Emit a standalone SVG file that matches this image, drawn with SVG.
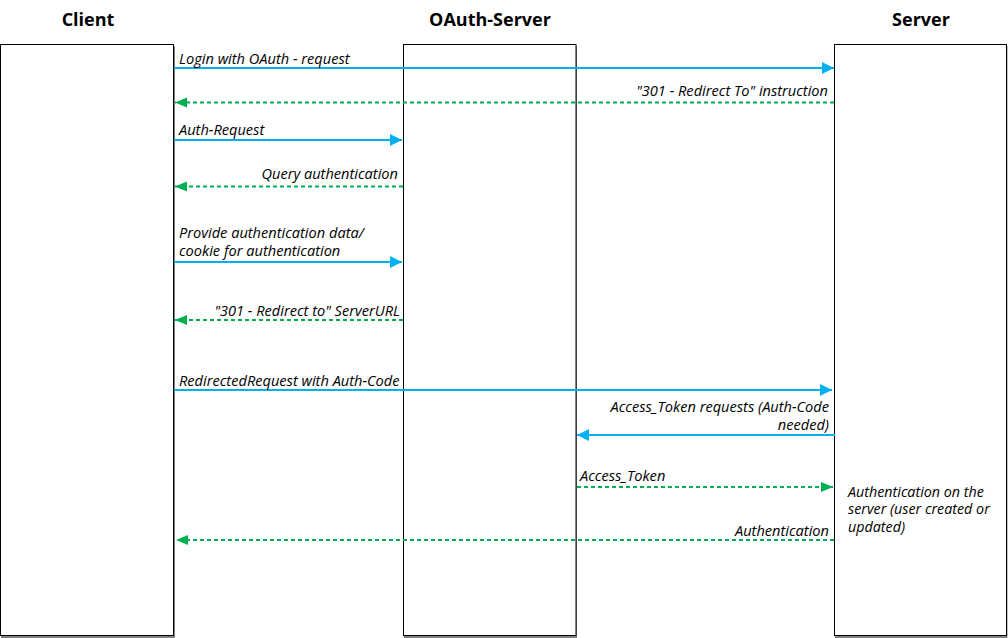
<svg xmlns="http://www.w3.org/2000/svg" width="1008" height="638" viewBox="0 0 1008 638">
<style>
.box{fill:#fff;stroke:#000;stroke-width:1}
.shadow{fill:#808080}
.title{font-family:"Open Sans","Liberation Sans",sans-serif;font-weight:bold;font-size:18px;text-anchor:middle;fill:#000}
.lbl{font-family:"Open Sans","Liberation Sans",sans-serif;font-style:italic;font-size:14.6px;fill:#000}
.note{font-size:14.3px}
.r{text-anchor:end}
.req{stroke:#00B0F0;stroke-width:2;fill:none}
.resp{stroke:#00B050;stroke-width:2;fill:none;stroke-dasharray:4 3}
</style>
<defs>
<marker id="ab" markerUnits="userSpaceOnUse" markerWidth="14" markerHeight="14" refX="12" refY="6" orient="auto">
<path d="M0,0 L12,6 L0,12 Z" fill="#00B0F0"/>
</marker>
<marker id="ag" markerUnits="userSpaceOnUse" markerWidth="14" markerHeight="14" refX="12" refY="5" orient="auto">
<path d="M0,0 L12,5 L0,10 Z" fill="#00B050"/>
</marker>
</defs>
<rect width="1008" height="638" fill="#fff"/>
<g id="client">
<rect class="shadow" x="1" y="46" width="174" height="592"/>
<rect class="box" x="0.5" y="44.5" width="173" height="591"/>
<text class="title" x="88" y="26">Client</text>
</g>
<g id="oauth-server">
<rect class="shadow" x="404" y="46" width="173" height="592"/>
<rect class="box" x="403.5" y="44.5" width="172.5" height="591"/>
<text class="title" x="490" y="26">OAuth-Server</text>
</g>
<g id="server">
<rect class="shadow" x="835" y="46" width="172.5" height="592"/>
<rect class="box" x="834.5" y="44.5" width="172" height="591"/>
<text class="title" x="921" y="26">Server</text>
<text class="lbl note" x="848" y="497">Authentication on the<tspan x="848" dy="17.3">server (user created or</tspan><tspan x="848" dy="17.3">updated)</tspan></text>
</g>
<g id="connectors">
<line class="req" x1="174" y1="68" x2="834" y2="68" marker-end="url(#ab)"/>
<line class="resp" x1="834" y1="102.5" x2="175" y2="102.5" marker-end="url(#ag)"/>
<line class="req" x1="174" y1="140" x2="402" y2="140" marker-end="url(#ab)"/>
<line class="resp" x1="403" y1="186.5" x2="175" y2="186.5" marker-end="url(#ag)"/>
<line class="req" x1="174" y1="262" x2="402" y2="262" marker-end="url(#ab)"/>
<line class="resp" x1="403" y1="320" x2="175" y2="320" marker-end="url(#ag)"/>
<line class="req" x1="174" y1="390" x2="832" y2="390" marker-end="url(#ab)"/>
<line class="req" x1="835" y1="435" x2="577" y2="435" marker-end="url(#ab)"/>
<line class="resp" x1="577" y1="487" x2="833" y2="487" marker-end="url(#ag)"/>
<line class="resp" x1="834" y1="540" x2="176" y2="540" marker-end="url(#ag)"/>
</g>
<g id="labels">
<text class="lbl" x="179" y="64">Login with OAuth - request</text>
<text class="lbl r" x="828" y="96">"301 - Redirect To" instruction</text>
<text class="lbl" x="179" y="135">Auth-Request</text>
<text class="lbl r" x="398" y="179">Query authentication</text>
<text class="lbl" x="179" y="238">Provide authentication data/<tspan x="179" dy="18">cookie for authentication</tspan></text>
<text class="lbl r" x="400" y="316">"301 - Redirect to" ServerURL</text>
<text class="lbl" x="179" y="386">RedirectedRequest with Auth-Code</text>
<text class="lbl r" x="829" y="412">Access_Token requests (Auth-Code<tspan x="829" dy="18">needed)</tspan></text>
<text class="lbl" x="580" y="481">Access_Token</text>
<text class="lbl r" x="829" y="536">Authentication</text>
</g>
</svg>
